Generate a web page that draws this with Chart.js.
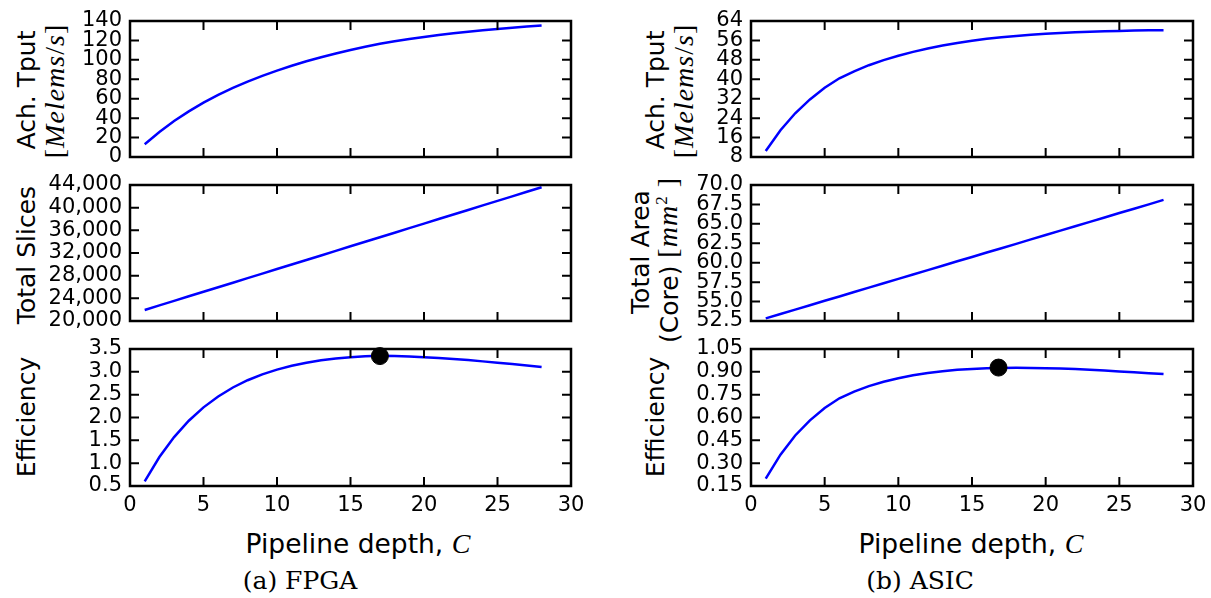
<!DOCTYPE html>
<html>
<head>
<meta charset="utf-8">
<script src="https://cdn.jsdelivr.net/npm/chart.js@4.4.0/dist/chart.umd.min.js"></script>
<style>
body { margin: 0; background: #fff; }
#fig { position: relative; width: 1211px; height: 598px; overflow: hidden; background: #fff; font-family: "DejaVu Sans"; color: #000; }
#fig canvas { position: absolute; }
.lab { position: absolute; white-space: nowrap; font-size: 25px; line-height: 1; transform: translate(-50%, -50%); }
.rot { transform: translate(-50%, -50%) rotate(-90deg); }
.math { font-family: "Liberation Serif"; font-size: 28px; letter-spacing: 1px; }
.math i, .ci { font-family: "Liberation Serif"; font-style: italic; }
.xt { font-size: 26.5px; }
.cap { font-family: "DejaVu Serif"; font-size: 25px; }
</style>
</head>
<body>
<div id="fig">
  <div class="lab rot" style="left:26px;top:90px">Ach. Tput</div>
  <div class="lab rot math" style="left:55px;top:91px">[<i>Melems</i>/<i>s</i>]</div>
  <div class="lab rot" style="left:26px;top:255px">Total Slices</div>
  <div class="lab rot" style="left:26px;top:417px">Efficiency</div>
  <div class="lab xt" style="left:358px;top:544px">Pipeline depth, <span class="ci" style="font-size:28px">C</span></div>
  <div class="lab cap" style="left:300px;top:580px">(a) FPGA</div>

  <div class="lab rot" style="left:655px;top:90px">Ach. Tput</div>
  <div class="lab rot math" style="left:684px;top:91px">[<i>Melems</i>/<i>s</i>]</div>
  <div class="lab rot" style="left:640px;top:252px">Total Area</div>
  <div class="lab rot" style="left:668px;top:260px">(Core) <span class="math">[<i>mm</i><sup style="font-size:17px">2</sup>&nbsp;]</span></div>
  <div class="lab rot" style="left:655px;top:417px">Efficiency</div>
  <div class="lab xt" style="left:971px;top:544px">Pipeline depth, <span class="ci" style="font-size:28px">C</span></div>
  <div class="lab cap" style="left:920px;top:580px">(b) ASIC</div>
</div>
<script>
// pipeline depth C
const depth = [1, 2, 3, 4, 5, 6, 7, 8, 9, 10, 11, 12, 13, 14, 15, 16, 17, 18, 19, 20, 21, 22, 23, 24, 25, 26, 27, 28];

// (a) FPGA
const fpgaTput = [13.2, 25.8, 37.0, 47.0, 55.9, 63.9, 71.1, 77.6, 83.5, 88.9, 93.9, 98.5, 102.7, 106.6,
                  110.2, 113.5, 116.5, 119.05, 121.4, 123.55, 125.5, 127.3, 128.95, 130.45, 131.85, 133.15, 134.35, 135.45];
const fpgaSlices = [21950, 22750, 23550, 24360, 25160, 25960, 26760, 27560, 28370, 29170, 29970, 30770, 31570, 32380,
                    33180, 33980, 34780, 35580, 36390, 37190, 37990, 38790, 39590, 40400, 41200, 42000, 42800, 43600];
const fpgaEff = [0.601, 1.134, 1.571, 1.929, 2.222, 2.461, 2.657, 2.816, 2.943, 3.048, 3.133, 3.201, 3.253, 3.292,
                 3.321, 3.340, 3.350, 3.346, 3.336, 3.322, 3.304, 3.282, 3.257, 3.229, 3.200, 3.170, 3.139, 3.107];

// (b) ASIC
const asicTput = [10.47, 19.0, 26.0, 31.7, 36.5, 40.4, 43.3, 45.8, 47.9, 49.7, 51.3, 52.7, 53.9, 54.95,
                  55.85, 56.65, 57.3, 57.85, 58.35, 58.75, 59.1, 59.4, 59.6, 59.78, 59.93, 60.05, 60.15, 60.23];
const asicArea = [52.84, 53.40, 53.97, 54.53, 55.10, 55.66, 56.23, 56.79, 57.36, 57.92, 58.48, 59.05, 59.61, 60.18,
                  60.74, 61.31, 61.87, 62.43, 63.00, 63.56, 64.13, 64.69, 65.26, 65.82, 66.39, 66.95, 67.51, 68.08];
const asicEff = [0.198, 0.356, 0.482, 0.581, 0.662, 0.726, 0.770, 0.806, 0.835, 0.858, 0.877, 0.892, 0.904, 0.913,
                 0.919, 0.924, 0.926, 0.927, 0.926, 0.924, 0.922, 0.918, 0.913, 0.908, 0.903, 0.897, 0.891, 0.885];

// most efficient depth (FPGA, ASIC)
const bestDepth = [17, 16.8];
const bestEff = [3.345, 0.928];

// tick labels
const xTicks = [0, 5, 10, 15, 20, 25, 30];
const fpgaTputTicks = [0, 20, 40, 60, 80, 100, 120, 140];
const fpgaSliceTicks = [20000, 24000, 28000, 32000, 36000, 40000, 44000];
const fpgaEffTicks = [0.5, 1.0, 1.5, 2.0, 2.5, 3.0, 3.5];
const asicTputTicks = [8, 16, 24, 32, 40, 48, 56, 64];
const asicAreaTicks = [52.5, 55.0, 57.5, 60.0, 62.5, 65.0, 67.5, 70.0];
const asicEffTicks = [0.15, 0.30, 0.45, 0.60, 0.75, 0.90, 1.05];

Chart.defaults.font.family = 'DejaVu Sans';
Chart.defaults.color = '#000';

const YW = 110;   // room for y tick labels
const PT = 26;    // top padding (more than half a label + tick padding)
const PR = 25;    // right padding
const TICK = 9;   // inward tick length

// box round the plot with inward ticks on all four sides
const framePlugin = {
    id: 'frame',
    afterDatasetsDraw(chart) {
        const a = chart.chartArea;
        const ctx = chart.ctx;
        const xs = chart.scales.x, ys = chart.scales.y;
        ctx.save();
        ctx.strokeStyle = '#000';
        ctx.lineWidth = 2;
        ctx.beginPath();
        xs.ticks.forEach(t => {
            const px = xs.getPixelForValue(t.value);
            ctx.moveTo(px, a.bottom); ctx.lineTo(px, a.bottom - TICK);
            ctx.moveTo(px, a.top); ctx.lineTo(px, a.top + TICK);
        });
        ys.ticks.forEach(t => {
            const py = ys.getPixelForValue(t.value);
            ctx.moveTo(a.left, py); ctx.lineTo(a.left + TICK, py);
            ctx.moveTo(a.right, py); ctx.lineTo(a.right - TICK, py);
        });
        ctx.stroke();
        ctx.lineWidth = 2.5;
        ctx.strokeRect(a.left, a.top, a.right - a.left, a.bottom - a.top);
        ctx.restore();
    }
};

function makeChart(rect, values, yTicks, fmt, showX, best) {
    const xh = showX ? 36 : 26;
    const cv = document.createElement('canvas');
    cv.width = (rect.r - rect.l) + YW + PR;
    cv.height = (rect.b - rect.t) + PT + xh;
    cv.style.left = (rect.l - YW) + 'px';
    cv.style.top = (rect.t - PT) + 'px';
    document.getElementById('fig').appendChild(cv);

    const datasets = [];
    if (best) {
        datasets.push({
            data: [best],
            showLine: false,
            pointRadius: 8.5,
            pointBackgroundColor: '#000',
            pointBorderColor: '#000',
            clip: false
        });
    }
    datasets.push({
        data: depth.map((d, i) => ({ x: d, y: values[i] })),
        borderColor: '#0000ff',
        borderWidth: 2.5,
        pointRadius: 0,
        tension: 0,
        fill: false
    });

    return new Chart(cv, {
        type: 'line',
        data: { datasets: datasets },
        options: {
            responsive: false,
            animation: false,
            devicePixelRatio: 1,
            layout: { padding: { top: PT, right: PR, left: 0, bottom: 0 } },
            plugins: { legend: { display: false }, tooltip: { enabled: false } },
            scales: {
                x: {
                    type: 'linear', min: 0, max: 30,
                    grid: { display: false, drawTicks: false },
                    border: { display: false },
                    ticks: { display: showX, padding: 7, font: { size: 21 }, color: '#000', maxRotation: 0, autoSkip: false },
                    afterBuildTicks: s => { s.ticks = xTicks.map(v => ({ value: v })); },
                    afterFit: s => { s.height = xh; }
                },
                y: {
                    type: 'linear', min: yTicks[0], max: yTicks[yTicks.length - 1],
                    grid: { display: false, drawTicks: false },
                    border: { display: false },
                    ticks: { padding: 8, font: { size: 21 }, color: '#000', autoSkip: false, callback: v => fmt(v) },
                    afterBuildTicks: s => { s.ticks = yTicks.map(v => ({ value: v })); },
                    afterFit: s => { s.width = YW; }
                }
            }
        },
        plugins: [framePlugin]
    });
}

const fixed = n => v => v.toFixed(n);
const thousands = v => v.toLocaleString('en-US');

const leftCol = { l: 130, r: 571 };
const rightCol = { l: 751, r: 1193 };
const rows = [{ t: 21, b: 157 }, { t: 185, b: 321 }, { t: 349, b: 486 }];
const box = (c, r) => ({ l: c.l, r: c.r, t: r.t, b: r.b });

makeChart(box(leftCol, rows[0]), fpgaTput, fpgaTputTicks, fixed(0), false, null);
makeChart(box(leftCol, rows[1]), fpgaSlices, fpgaSliceTicks, thousands, false, null);
makeChart(box(leftCol, rows[2]), fpgaEff, fpgaEffTicks, fixed(1), true, { x: bestDepth[0], y: bestEff[0] });

makeChart(box(rightCol, rows[0]), asicTput, asicTputTicks, fixed(0), false, null);
makeChart(box(rightCol, rows[1]), asicArea, asicAreaTicks, fixed(1), false, null);
makeChart(box(rightCol, rows[2]), asicEff, asicEffTicks, fixed(2), true, { x: bestDepth[1], y: bestEff[1] });
</script>
</body>
</html>
